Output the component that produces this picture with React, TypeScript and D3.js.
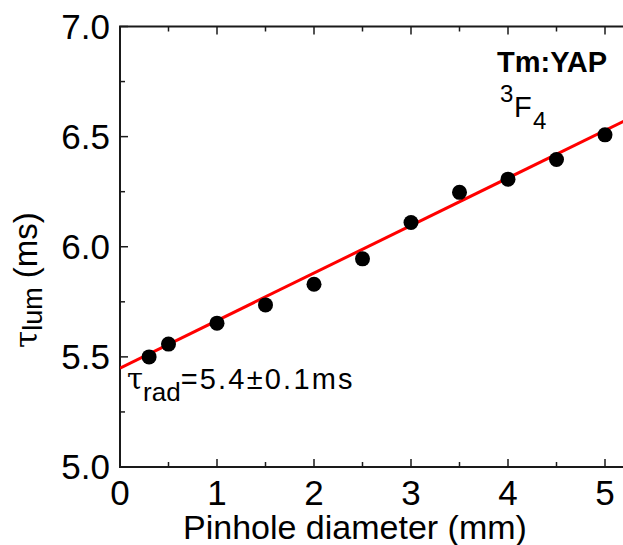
import React from "react";
import * as d3 from "d3";

const diameters = [0.3, 0.5, 1, 1.5, 2, 2.5, 3, 3.5, 4, 4.5, 5];
const lifetimes = [5.5, 5.558, 5.653, 5.736, 5.83, 5.945, 6.11, 6.247, 6.307, 6.396, 6.508];
const fitIntercept = 5.449;
const fitSlope = 0.2158;
const xTicks = [0, 1, 2, 3, 4, 5];
const xMinor = [0.5, 1.5, 2.5, 3.5, 4.5];
const yTicks = [5.0, 5.5, 6.0, 6.5, 7.0];
const yMinor = [5.25, 5.75, 6.25, 6.75];

const W = 623;
const H = 545;
const left = 120;
const top = 26.5;
const bottom = 467;

export default function App() {
  const x = d3.scaleLinear().domain([0, 5.2]).range([left, left + 5.2 * 97]);
  const y = d3.scaleLinear().domain([5, 7]).range([bottom, top]);
  const right = x(5.2);
  const fitX = [0, 5.2];
  const line = d3
    .line<number>()
    .x((d) => x(d))
    .y((d) => y(fitIntercept + fitSlope * d));
  const font = "'Liberation Sans', Arial, sans-serif";
  const ink = "#1a1a1a";

  return (
    <svg
      width={W}
      height={H}
      style={{ position: "absolute", left: 0, top: 0, background: "#fff" }}
      fontFamily={font}
    >
      <defs>
        <clipPath id="plot">
          <rect x={left} y={top} width={right - left} height={bottom - top} />
        </clipPath>
      </defs>
      {/* axes lines */}
      <line x1={left} y1={top} x2={left} y2={bottom} stroke={ink} strokeWidth={2} />
      <line x1={left - 1} y1={bottom} x2={right} y2={bottom} stroke={ink} strokeWidth={2} />
      <line x1={left - 1} y1={top} x2={right} y2={top} stroke={ink} strokeWidth={2} />
      {/* x ticks */}
      {xTicks.map((t) => (
        <g key={"xt" + t}>
          <line x1={x(t)} x2={x(t)} y1={bottom} y2={bottom - 8} stroke={ink} strokeWidth={1.5} />
          <line x1={x(t)} x2={x(t)} y1={top} y2={top + 8} stroke={ink} strokeWidth={1.5} />
          <text x={x(t)} y={505} fontSize={35} textAnchor="middle" fill="#000">
            {t}
          </text>
        </g>
      ))}
      {xMinor.map((t) => (
        <g key={"xm" + t}>
          <line x1={x(t)} x2={x(t)} y1={bottom} y2={bottom - 5} stroke={ink} strokeWidth={1.5} />
          <line x1={x(t)} x2={x(t)} y1={top} y2={top + 5} stroke={ink} strokeWidth={1.5} />
        </g>
      ))}
      {/* y ticks */}
      {yTicks.map((t) => (
        <g key={"yt" + t}>
          <line x1={left} x2={left + 8} y1={y(t)} y2={y(t)} stroke={ink} strokeWidth={1.5} />
          <text x={110} y={y(t) + 12} fontSize={35} textAnchor="end" fill="#000">
            {t.toFixed(1)}
          </text>
        </g>
      ))}
      {yMinor.map((t) => (
        <line key={"ym" + t} x1={left} x2={left + 5} y1={y(t)} y2={y(t)} stroke={ink} strokeWidth={1.5} />
      ))}
      {/* fit line */}
      <path d={line(fitX) || ""} fill="none" stroke="#ff0000" strokeWidth={3} clipPath="url(#plot)" />
      {/* points */}
      {diameters.map((d, i) => (
        <circle key={"p" + i} cx={x(d)} cy={y(lifetimes[i])} r={7.5} fill="#000" />
      ))}
      {/* annotations */}
      <text x={497} y={72} fontSize={29} fontWeight="bold" fill="#000">
        Tm:YAP
      </text>
      <text x={500} y={102} fontSize={24} fill="#000">3</text>
      <text x={514} y={117} fontSize={29} fill="#000">F</text>
      <text x={533} y={129} fontSize={24} fill="#000">4</text>
      <text x={127} y={389} fontSize={29} fill="#000">
        <tspan fontFamily="'DejaVu Serif', serif" fontSize={29}>τ</tspan>
        <tspan dy={12} fontSize={26}>rad</tspan>
        <tspan dy={-12} fontSize={29} letterSpacing={2.2}>=5.4±0.1ms</tspan>
      </text>
      {/* axis titles */}
      <text x={183} y={539} fontSize={34} fill="#000">
        Pinhole diameter (mm)
      </text>
      <text transform="translate(37,348) rotate(-90)" fontSize={33} fill="#000">
        <tspan fontFamily="'DejaVu Serif', serif" fontSize={31}>τ</tspan>
        <tspan dy={5} fontSize={27}>lum</tspan>
        <tspan dy={-5}> (ms)</tspan>
      </text>
    </svg>
  );
}
